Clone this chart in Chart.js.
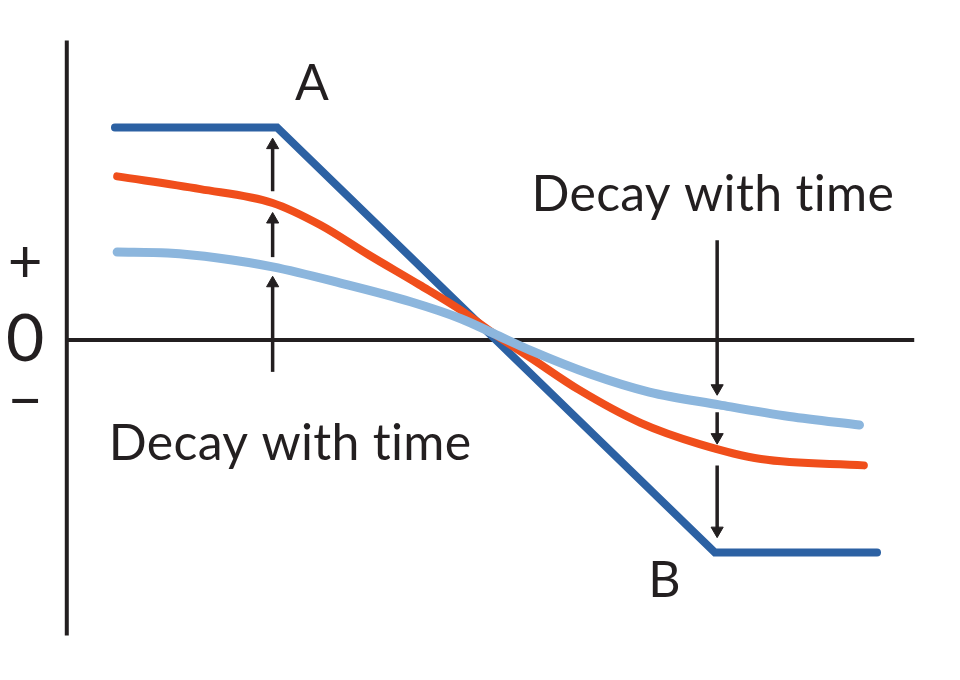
<!DOCTYPE html>
<html>
<head>
<meta charset="utf-8">
<script src="https://cdn.jsdelivr.net/npm/chart.js@4/dist/chart.umd.min.js"></script>
<style>
  html, body { margin: 0; padding: 0; background: #ffffff; }
  #wrap { width: 960px; height: 680px; }
</style>
</head>
<body>
<div id="wrap"><canvas id="c" width="960" height="680"></canvas></div>
<script>
// ---- Data (abstract units: x = position, y = value; knees of the ideal curve at ±1) ----
const blueX   = [-1.74, -1.00, 1.00, 1.74];
const blueY   = [ 1.00,  1.00, -1.00, -1.00];

const orangeX = [-1.73, -1.35, -1.02, -0.80, -0.58, -0.35, -0.16, -0.01, 0.16, 0.38, 0.66, 0.93, 1.21, 1.68];
const orangeY = [ 0.77,  0.71,  0.645, 0.54,  0.40,  0.26,  0.14,  0.03, -0.085, -0.235, -0.39, -0.49, -0.56, -0.59];

const lightX  = [-1.73, -1.50, -1.27, -1.02, -0.71, -0.39, -0.16, -0.01, 0.16, 0.43, 0.70, 1.02, 1.34, 1.66];
const lightY  = [ 0.414, 0.409, 0.386, 0.344, 0.268, 0.18,  0.10,  0.03, -0.05, -0.16, -0.245, -0.305, -0.36, -0.40];

// Decay arrows: x position, start value, tip value
const arrowX    = [-1.02, -1.02, -1.02, 1.01, 1.01, 1.01];
const arrowFrom = [-0.15,  0.39,  0.70, 0.47, -0.34, -0.59];
const arrowTo   = [ 0.30,  0.60,  0.95, -0.26, -0.49, -0.93];

// Axes extents
const axisXRange = [-1.96, 1.91];
const axisYRange = [-1.39, 1.41];

// Text labels
const labelText = ['A', 'B', 'Decay with time', 'Decay with time', '+', '0', '\u2212'];
const labelX    = [-0.84, 0.77, 0.99, -0.94, -2.15, -2.15, -2.15];
const labelY    = [ 1.13, -1.21, 0.607, -0.565, 0.365, 0.0, -0.29];

// ---- Build datasets ----
const ink = '#231f20';
const pts = (xs, ys) => xs.map((x, i) => ({ x: x, y: ys[i] }));

const datasets = [
  { label: 'light', data: pts(lightX, lightY), borderColor: '#8cb6dd', borderWidth: 9, order: 1,
    cubicInterpolationMode: 'monotone', borderCapStyle: 'round', pointRadius: 0, clip: false },
  { label: 'orange', data: pts(orangeX, orangeY), borderColor: '#f04e1b', borderWidth: 8, order: 2,
    cubicInterpolationMode: 'monotone', borderCapStyle: 'round', pointRadius: 0, clip: false },
  { label: 'blue', data: pts(blueX, blueY), borderColor: '#2c61a3', borderWidth: 8, order: 3,
    tension: 0, borderCapStyle: 'round', borderJoinStyle: 'miter', pointRadius: 0, clip: false },
  { label: 'xaxis', data: [{ x: axisXRange[0], y: 0 }, { x: axisXRange[1], y: 0 }], borderColor: ink, borderWidth: 4,
    order: 10, pointRadius: 0, clip: false },
  { label: 'yaxis', data: [{ x: axisXRange[0], y: axisYRange[0] }, { x: axisXRange[0], y: axisYRange[1] }], borderColor: ink,
    borderWidth: 4, order: 10, pointRadius: 0, clip: false }
];

const headR = 7;               // arrow head radius in px
const headOff = headR / 212.5; // value units per px on the y scale below
arrowX.forEach((x, i) => {
  const dir = arrowTo[i] > arrowFrom[i] ? 1 : -1;
  const headY = arrowTo[i] - dir * headOff;
  datasets.push({
    label: 'arrow' + i,
    data: [{ x: x, y: arrowFrom[i] }, { x: x, y: headY }],
    borderColor: ink, borderWidth: 3.5, order: 5, clip: false,
    pointRadius: [0, headR], pointStyle: 'triangle', pointRotation: dir > 0 ? 0 : 180,
    pointBackgroundColor: ink, pointBorderColor: ink, pointBorderWidth: 1
  });
});

const labelPlugin = {
  id: 'labels',
  afterDatasetsDraw(chart) {
    const ctx = chart.ctx, xs = chart.scales.x, ys = chart.scales.y;
    ctx.save();
    ctx.fillStyle = ink;
    labelText.forEach((t, i) => {
      const sign = (t === '+' || t === '\u2212');
      const zero = (t === '0');
      const size = zero ? 66 : (sign ? 60 : 50);
      ctx.font = '400 ' + size + 'px Lato, "Open Sans", sans-serif';
      if ('letterSpacing' in ctx) ctx.letterSpacing = (sign || zero) ? '0px' : '0.3px';
      ctx.textAlign = 'center';
      ctx.textBaseline = (sign || zero) ? 'middle' : 'alphabetic';
      ctx.fillText(t, xs.getPixelForValue(labelX[i]), ys.getPixelForValue(labelY[i]));
    });
    ctx.restore();
  }
};

new Chart(document.getElementById('c'), {
  type: 'line',
  data: { datasets: datasets },
  options: {
    responsive: false,
    animation: false,
    devicePixelRatio: 1,
    layout: { padding: 0, autoPadding: false },
    scales: {
      x: { type: 'linear', min: -2.265, max: 2.119, display: false },
      y: { type: 'linear', min: -1.6, max: 1.6, display: false }
    },
    plugins: { legend: { display: false }, tooltip: { enabled: false }, title: { display: false } },
    elements: { line: { fill: false } }
  },
  plugins: [labelPlugin]
});
</script>
</body>
</html>
